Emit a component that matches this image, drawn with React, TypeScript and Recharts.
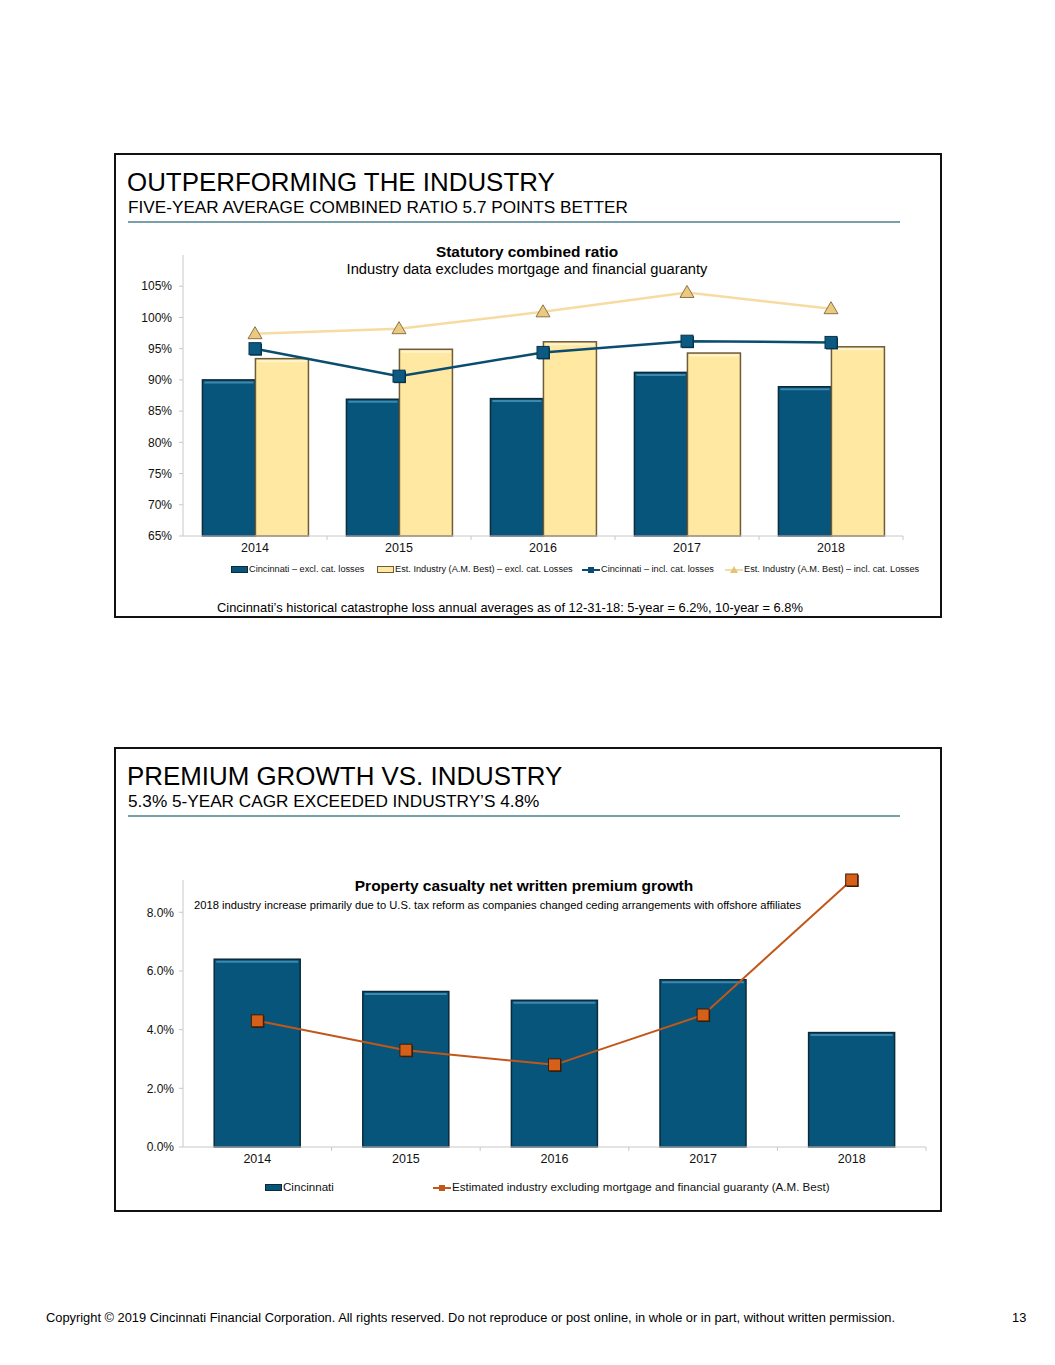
import { Bar, ComposedChart, Line, XAxis, YAxis } from 'recharts';

const years = ['2014', '2015', '2016', '2017', '2018'];

// statutory combined ratio (%)
const cinExclCat = [90.0, 86.9, 87.0, 91.2, 88.9];
const indExclCat = [93.4, 94.9, 96.1, 94.3, 95.3];
const cinInclCat = [95.0, 90.6, 94.4, 96.2, 96.0];
const indInclCat = [97.4, 98.2, 100.9, 104.0, 101.4];
const ratioTicks = [65, 70, 75, 80, 85, 90, 95, 100, 105];

// net written premium growth (%)
const cinGrowth = [6.4, 5.3, 5.0, 5.7, 3.9];
const indGrowth = [4.3, 3.3, 2.8, 4.5, 9.1];
const growthTicks = [0, 2, 4, 6, 8];

const ratioData = years.map((year, i) => ({
  year,
  cinExcl: cinExclCat[i],
  indExcl: indExclCat[i],
  cinIncl: cinInclCat[i],
  indIncl: indInclCat[i],
}));

const growthData = years.map((year, i) => ({ year, cin: cinGrowth[i], ind: indGrowth[i] }));

const FONT = '"Liberation Sans", Arial, Helvetica, sans-serif';
const NAVY = '#07557b';
const CREAM = '#ffe8a1';

function bevelBar(fill: string, stroke: string, shine: string) {
  return (props: any) => {
    const { x, y, width, height } = props;
    if (!height || height <= 0) return <g />;
    return (
      <g>
        <rect x={x} y={y} width={width} height={height} fill={fill} stroke={stroke} strokeWidth={1.5} />
        <line x1={x + 2} x2={x + width - 2} y1={y + 2.5} y2={y + 2.5} stroke={shine} strokeWidth={2} />
      </g>
    );
  };
}

const SquareDot = ({ fill, edge }: { fill: string; edge: string }) => (props: any) => {
  const { cx, cy } = props;
  if (cx == null || cy == null) return <g />;
  return (
    <g>
      <rect x={cx - 5} y={cy - 5} width={12} height={12} fill={edge} />
      <rect x={cx - 6} y={cy - 6} width={12} height={12} fill={fill} stroke={edge} strokeWidth={1} />
    </g>
  );
};

const TriangleDot = (props: any) => {
  const { cx, cy } = props;
  if (cx == null || cy == null) return <g />;
  return (
    <path
      d={`M${cx},${cy - 7} L${cx + 7},${cy + 5} L${cx - 7},${cy + 5} Z`}
      fill="#ecc980"
      stroke="#8b7447"
      strokeWidth={1}
    />
  );
};

const yearTick = (band: number) => (props: any) => {
  const { x, y, payload } = props;
  return (
    <g>
      <text x={x} y={y + 16} textAnchor="middle" fontSize={12.5} fill="#111" fontFamily={FONT}>
        {payload.value}
      </text>
      <line x1={x + band / 2} x2={x + band / 2} y1={y} y2={y + 4} stroke="#c8c8c8" />
    </g>
  );
};

const abs = (left: number, top: number, extra: any = {}) => ({
  position: 'absolute' as const,
  left,
  top,
  fontFamily: FONT,
  whiteSpace: 'nowrap' as const,
  ...extra,
});

function Frame({ top, title, subtitle }: { top: number; title: string; subtitle: string }) {
  return (
    <>
      <div style={{ position: 'absolute', left: 114, top, width: 824, height: 461, border: '2px solid #111' }} />
      <div style={abs(127, top + 14, { fontSize: 25.9, color: '#000', lineHeight: '30px' })}>{title}</div>
      <div style={abs(128, top + 45, { fontSize: 17.2, color: '#000', lineHeight: '18px' })}>{subtitle}</div>
      <div style={{ position: 'absolute', left: 128, top: top + 68, width: 772, height: 2, background: '#79a0a8' }} />
    </>
  );
}

function Swatch({ fill, stroke }: { fill: string; stroke: string }) {
  return (
    <span
      style={{
        display: 'inline-block',
        width: 15,
        height: 5,
        background: fill,
        border: `1px solid ${stroke}`,
        marginRight: 1,
        verticalAlign: 'middle',
      }}
    />
  );
}

function LineSwatch({ color, mark }: { color: string; mark: 'square' | 'triangle' }) {
  return (
    <svg width={18} height={8} style={{ verticalAlign: 'middle', marginRight: 1 }}>
      <line x1={0} x2={18} y1={4} y2={4} stroke={color} strokeWidth={2} />
      {mark === 'square' ? (
        <rect x={6} y={1} width={6} height={6} fill={color} />
      ) : (
        <path d="M9,0 L13,7 L5,7 Z" fill="#e3c27a" />
      )}
    </svg>
  );
}

const centered = (cx: number) => ({ position: 'absolute' as const, left: cx, transform: 'translateX(-50%)' });

export default function App() {
  return (
    <div style={{ position: 'absolute', left: 0, top: 0, width: 1055, height: 1365, background: '#fff', fontFamily: FONT }}>
      <Frame top={153} title="OUTPERFORMING THE INDUSTRY" subtitle="FIVE-YEAR AVERAGE COMBINED RATIO 5.7 POINTS BETTER" />

      <div style={abs(0, 243, { fontSize: 15.4, fontWeight: 700, color: '#000' })}>
        <span style={centered(527)}>Statutory combined ratio</span>
      </div>
      <div style={abs(0, 261, { fontSize: 14.7, color: '#000' })}>
        <span style={centered(527)}>Industry data excludes mortgage and financial guaranty</span>
      </div>

      <div style={{ position: 'absolute', left: 115, top: 236 }}>
        <ComposedChart
          width={826}
          height={350}
          data={ratioData}
          margin={{ top: 19, right: 38, bottom: 20, left: 0 }}
          barGap={0}
          barCategoryGap="13.5%"
        >
          <XAxis
            dataKey="year"
            height={30}
            tickSize={0}
            tickMargin={0}
            axisLine={{ stroke: '#c8c8c8' }}
            tickLine={false}
            tick={yearTick(144)}
            interval={0}
          />
          <YAxis
            width={68}
            domain={[65, 110]}
            ticks={ratioTicks}
            tickFormatter={(v) => `${v}%`}
            axisLine={{ stroke: '#c8c8c8' }}
            tickLine={{ stroke: '#c8c8c8' }}
            tickSize={4}
            tickMargin={7}
            tick={{ fill: '#111', fontSize: 12, fontFamily: FONT }}
          />
          <Bar dataKey="cinExcl" isAnimationActive={false} shape={bevelBar(NAVY, '#0b2a3a', '#3e88ad')} />
          <Bar dataKey="indExcl" isAnimationActive={false} shape={bevelBar(CREAM, '#6e5b38', '#fff4cf')} />
          <Line
            dataKey="cinIncl"
            stroke="#0a4d6e"
            strokeWidth={2.5}
            dot={SquareDot({ fill: '#0c5a82', edge: '#07344c' })}
            isAnimationActive={false}
          />
          <Line
            dataKey="indIncl"
            stroke="#f6dca2"
            strokeWidth={2.5}
            dot={TriangleDot}
            isAnimationActive={false}
          />
        </ComposedChart>
      </div>

      <div style={abs(231, 563, { fontSize: 9.2, color: '#111', lineHeight: '12px' })}>
        <Swatch fill={NAVY} stroke="#0b2a3a" />
        Cincinnati – excl. cat. losses
      </div>
      <div style={abs(377, 563, { fontSize: 9.2, color: '#111', lineHeight: '12px' })}>
        <Swatch fill={CREAM} stroke="#6e5b38" />
        Est. Industry (A.M. Best) – excl. cat. Losses
      </div>
      <div style={abs(582, 563, { fontSize: 9.2, color: '#111', lineHeight: '12px' })}>
        <LineSwatch color="#0a4d6e" mark="square" />
        Cincinnati – incl. cat. losses
      </div>
      <div style={abs(725, 563, { fontSize: 9.2, color: '#111', lineHeight: '12px' })}>
        <LineSwatch color="#f6dca2" mark="triangle" />
        Est. Industry (A.M. Best) – incl. cat. Losses
      </div>

      <div style={abs(217, 600, { fontSize: 12.9, color: '#000' })}>
        Cincinnati’s historical catastrophe loss annual averages as of 12-31-18: 5-year = 6.2%, 10-year = 6.8%
      </div>

      <Frame top={747} title="PREMIUM GROWTH VS. INDUSTRY" subtitle="5.3% 5-YEAR CAGR EXCEEDED INDUSTRY’S 4.8%" />

      <div style={abs(0, 877, { fontSize: 15.5, fontWeight: 700, color: '#000' })}>
        <span style={centered(524)}>Property casualty net written premium growth</span>
      </div>
      <div style={abs(194, 899, { fontSize: 11.2, color: '#000' })}>
        2018 industry increase primarily due to U.S. tax reform as companies changed ceding arrangements with offshore affiliates
      </div>

      <div style={{ position: 'absolute', left: 115, top: 860 }}>
        <ComposedChart
          width={826}
          height={340}
          data={growthData}
          margin={{ top: 20, right: 15, bottom: 23, left: 0 }}
          barCategoryGap="21%"
        >
          <XAxis
            dataKey="year"
            height={30}
            tickSize={0}
            tickMargin={0}
            axisLine={{ stroke: '#c8c8c8' }}
            tickLine={false}
            tick={yearTick(148.6)}
            interval={0}
          />
          <YAxis
            width={68}
            domain={[0, 9.1]}
            ticks={growthTicks}
            tickFormatter={(v) => `${Number(v).toFixed(1)}%`}
            axisLine={{ stroke: '#c8c8c8' }}
            tickLine={{ stroke: '#c8c8c8' }}
            tickSize={4}
            tickMargin={5}
            tick={{ fill: '#111', fontSize: 12, fontFamily: FONT }}
          />
          <Bar dataKey="cin" isAnimationActive={false} shape={bevelBar(NAVY, '#0b2a3a', '#3e88ad')} />
          <Line
            dataKey="ind"
            stroke="#c2571a"
            strokeWidth={2}
            dot={SquareDot({ fill: '#d4601a', edge: '#3b1a08' })}
            isAnimationActive={false}
          />
        </ComposedChart>
      </div>

      <div style={abs(265, 1180, { fontSize: 11.6, color: '#111', lineHeight: '13px' })}>
        <Swatch fill={NAVY} stroke="#0b2a3a" />
        Cincinnati
      </div>
      <div style={abs(433, 1180, { fontSize: 11.6, color: '#111', lineHeight: '13px' })}>
        <LineSwatch color="#c2571a" mark="square" />
        Estimated industry excluding mortgage and financial guaranty (A.M. Best)
      </div>

      <div style={abs(46, 1310, { fontSize: 12.85, color: '#000' })}>
        Copyright © 2019 Cincinnati Financial Corporation. All rights reserved. Do not reproduce or post online, in whole or in part, without written permission.
      </div>
      <div style={abs(1012, 1310, { fontSize: 12.85, color: '#000' })}>13</div>
    </div>
  );
}
